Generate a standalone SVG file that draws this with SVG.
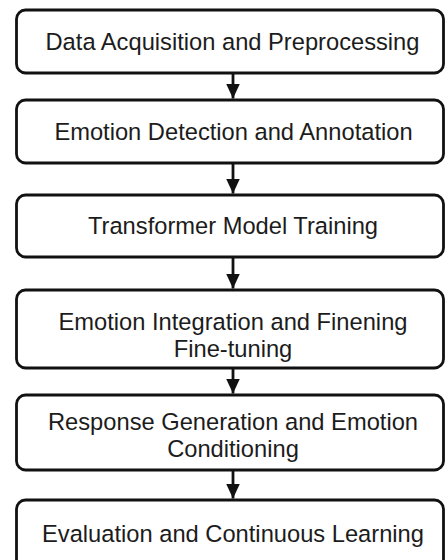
<svg xmlns="http://www.w3.org/2000/svg" width="445" height="560" viewBox="0 0 445 560">
  <style>
    .box { fill: #ffffff; stroke: #111111; stroke-width: 2.8; }
    .lbl { font-family: "Liberation Sans", Arial, sans-serif; font-size: 23.7px; fill: #1c1c1c; text-anchor: middle; }
    .link { stroke: #111111; stroke-width: 2.8; fill: none; }
  </style>
  <defs>
    <marker id="arrow" viewBox="0 0 15 14" refX="15" refY="7" markerWidth="15" markerHeight="14" markerUnits="userSpaceOnUse" orient="auto">
      <path d="M0,0 L15,7 L0,14 Z" fill="#111111"/>
    </marker>
  </defs>
  <rect width="445" height="560" fill="#ffffff"/>

  <g id="connectors">
    <line class="link" x1="233" y1="73" x2="233" y2="98.5" marker-end="url(#arrow)"/>
    <line class="link" x1="233" y1="163" x2="233" y2="193.5" marker-end="url(#arrow)"/>
    <line class="link" x1="233" y1="257" x2="233" y2="288.5" marker-end="url(#arrow)"/>
    <line class="link" x1="233" y1="368" x2="233" y2="393.5" marker-end="url(#arrow)"/>
    <line class="link" x1="233" y1="470" x2="233" y2="498.5" marker-end="url(#arrow)"/>
  </g>

  <g id="step1">
    <rect class="box" x="16.5" y="10" width="427" height="63" rx="9"/>
    <text class="lbl" x="232.5" y="49.5">Data Acquisition and Preprocessing</text>
  </g>
  <g id="step2">
    <rect class="box" x="16.5" y="100" width="427" height="63" rx="9"/>
    <text class="lbl" x="233.5" y="139.5">Emotion Detection and Annotation</text>
  </g>
  <g id="step3">
    <rect class="box" x="16.5" y="195" width="427" height="62" rx="9"/>
    <text class="lbl" x="233" y="234">Transformer Model Training</text>
  </g>
  <g id="step4">
    <rect class="box" x="16.5" y="290" width="427" height="78" rx="9"/>
    <text class="lbl" x="233" y="330">Emotion Integration and Finening</text>
    <text class="lbl" x="233" y="357">Fine-tuning</text>
  </g>
  <g id="step5">
    <rect class="box" x="16.5" y="395" width="427" height="75" rx="9"/>
    <text class="lbl" x="233" y="430">Response Generation and Emotion</text>
    <text class="lbl" x="233" y="457">Conditioning</text>
  </g>
  <g id="step6">
    <rect class="box" x="16.5" y="500" width="427" height="68" rx="9"/>
    <text class="lbl" x="233" y="542">Evaluation and Continuous Learning</text>
  </g>
</svg>
